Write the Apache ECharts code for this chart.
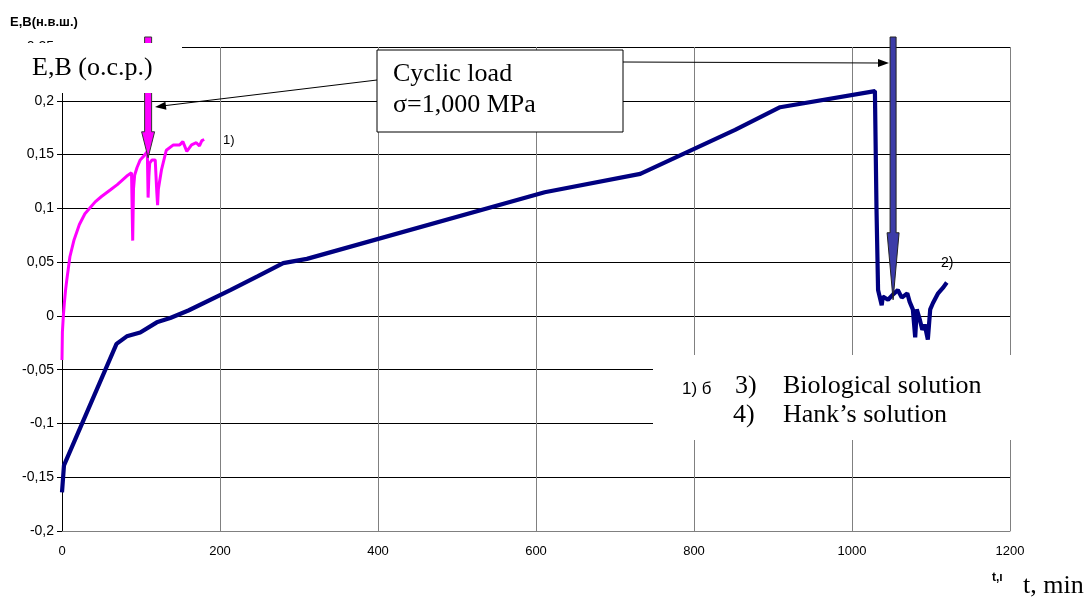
<!DOCTYPE html>
<html>
<head>
<meta charset="utf-8">
<script src="https://cdn.jsdelivr.net/npm/echarts@6/dist/echarts.min.js"></script>
<style>html,body{margin:0;padding:0;background:#fff}#c{width:1092px;height:597px}</style>
</head>
<body>
<div id="c"></div>
<script>
// Series 1 (pink) – time, E
const pinkT = [0,0.5,1.7,3,4.5,6,10,15,22,29,35,42,50,61,70,82,88,89.5,90.5,92,95,99,104,108,109,110,111,114,118,120,121,122,126,132,141,149,153,158,164,170,174,177,180];
const pinkV = [-0.041,-0.015,0,0.012,0.024,0.033,0.055,0.07,0.085,0.095,0.1,0.106,0.111,0.117,0.122,0.13,0.133,0.07,0.118,0.131,0.138,0.145,0.149,0.153,0.11,0.13,0.142,0.145,0.145,0.115,0.103,0.118,0.136,0.154,0.159,0.159,0.162,0.153,0.159,0.161,0.158,0.163,0.164];
// Series 2 (navy) – time, E
const blueT = [0,2.5,69,82,99,120,137,160,213,248,280,310,611,732,852,909,1029,1031,1033,1037.6,1039,1045.6,1052,1058,1063,1070,1073,1077,1080,1082,1086,1089,1092,1096,1099,1102.5,1109,1115,1120];
const blueV = [-0.164,-0.139,-0.026,-0.019,-0.0155,-0.006,-0.002,0.005,0.024,0.037,0.049,0.053,0.115,0.132,0.173,0.194,0.209,0.1,0.024,0.01,0.018,0.015,0.02,0.024,0.017,0.021,0.013,0.006,-0.02,0.006,-0.004,-0.013,-0.008,-0.022,0.006,0.012,0.021,0.026,0.031];
// axis ticks
const xTicks = [0,200,400,600,800,1000,1200];
const yTicks = [-0.2,-0.15,-0.1,-0.05,0,0.05,0.1,0.15,0.2,0.25];
// annotation arrow tips (data coords)
const arrowTips = [[109,0.147],[1052,0.015]];

const serif = "'Liberation Serif','Times New Roman',serif";
const sans = "'Liberation Sans',Arial,sans-serif";

const chart = echarts.init(document.getElementById('c'), null, {renderer:'canvas'});
const zip = (a,b)=>a.map((v,i)=>[v,b[i]]);
chart.setOption({
  animation:false,
  grid:{left:62,right:82,top:47,bottom:66},
  xAxis:{type:'value',min:xTicks[0],max:xTicks[xTicks.length-1],interval:200,
    axisLine:{show:true,onZero:false,lineStyle:{color:'#808080',width:1}},
    axisTick:{show:false},
    axisLabel:{color:'#000',fontFamily:sans,fontSize:13,margin:14,formatter:v=>String(v)},
    splitLine:{show:true,lineStyle:{color:'#808080',width:1}}},
  yAxis:{type:'value',min:yTicks[0],max:yTicks[yTicks.length-1],interval:0.05,
    axisLine:{show:true,onZero:false,lineStyle:{color:'#000',width:1}},
    axisTick:{show:true,inside:false,length:5,lineStyle:{color:'#000'}},
    axisLabel:{color:'#000',fontFamily:sans,fontSize:14,margin:8,
      formatter:v=>String(+(+v).toFixed(2)).replace('.',',')},
    splitLine:{show:true,lineStyle:{color:'#000',width:1}}},
  series:[
    {type:'line',data:zip(pinkT,pinkV),showSymbol:false,lineStyle:{color:'#ff00ff',width:3},z:3},
    {type:'line',data:zip(blueT,blueV),showSymbol:false,lineStyle:{color:'#000080',width:4.2},z:4}
  ]
});

function arrowHead(x1,y1,x2,y2,len,hw){
  const dx=x2-x1, dy=y2-y1, d=Math.hypot(dx,dy), ux=dx/d, uy=dy/d;
  const bx=x2-ux*len, by=y2-uy*len;
  return [[x2,y2],[bx-uy*hw,by+ux*hw],[bx+uy*hw,by-ux*hw]];
}
function bigArrow(tip,half,headHalf,headLen,top){
  const [tx,ty]=tip;
  return [[tx-half,top],[tx+half,top],[tx+half,ty-headLen],[tx+headHalf,ty-headLen],[tx,ty],[tx-headHalf,ty-headLen],[tx-half,ty-headLen]];
}
const p1 = chart.convertToPixel({gridIndex:0},arrowTips[0]);
const p2 = chart.convertToPixel({gridIndex:0},arrowTips[1]);

const T=(x,y,text,font,extra)=>Object.assign({type:'text',z:40,style:{x,y,text,font,fill:'#000',verticalAlign:'middle',align:'left'}},extra||{});
chart.setOption({graphic:[
  {type:'polygon',z:10,shape:{points:bigArrow(p1,3.5,6.5,26,37)},style:{fill:'#ff00ff',stroke:'#333',lineWidth:1}},
  {type:'polygon',z:10,shape:{points:bigArrow(p2,3,6,67,37)},style:{fill:'#3c3ca8',stroke:'#222',lineWidth:1}},
  {type:'rect',z:20,shape:{x:0,y:43,width:182,height:50},style:{fill:'#fff'}},
  {type:'rect',z:20,shape:{x:377,y:50,width:246,height:82},style:{fill:'#fff',stroke:'#000',lineWidth:1}},
  {type:'rect',z:20,shape:{x:653,y:355,width:439,height:85},style:{fill:'#fff'}},
  {type:'line',z:25,shape:{x1:377,y1:80,x2:162,y2:106},style:{stroke:'#000',lineWidth:1}},
  {type:'polygon',z:25,shape:{points:arrowHead(377,80,155,107,11,4)},style:{fill:'#000'}},
  {type:'line',z:25,shape:{x1:623,y1:62,x2:880,y2:63},style:{stroke:'#000',lineWidth:1}},
  {type:'polygon',z:25,shape:{points:arrowHead(623,62,889,63,11,4)},style:{fill:'#000'}},
  T(10,22.5,'E,B(н.в.ш.)','bold 13px '+sans),
  T(32,68.5,'E,B (o.c.p.)','26px '+serif),
  T(393,74.5,'Cyclic load','26px '+serif),
  T(393,105.5,'σ=1,000 MPa','26px '+serif),
  T(223,140,'1)','13px '+sans),
  T(941,263,'2)','14px '+sans),
  T(682,389,'1) б','17px '+sans),
  T(735,386.5,'3)','26px '+serif),
  T(783,386.5,'Biological solution','26px '+serif),
  T(733,415.5,'4)','26px '+serif),
  T(783,415.5,'Hank’s solution','26px '+serif),
  T(992,578,'t,ı','bold 12px '+sans),
  T(1023,586.5,'t, min','26px '+serif)
]});
</script>
</body>
</html>
